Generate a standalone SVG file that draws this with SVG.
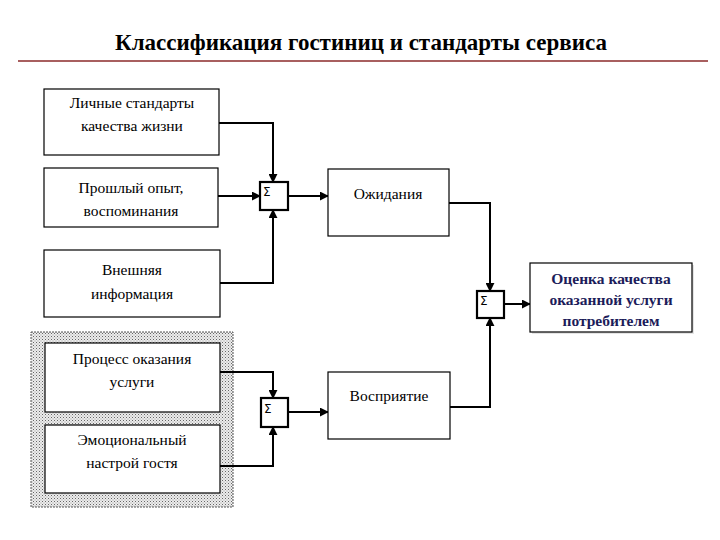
<svg xmlns="http://www.w3.org/2000/svg" width="720" height="540" viewBox="0 0 720 540">
<defs>
<style>
.box{fill:#fff;stroke:#000;stroke-width:1.2}
.sum{fill:#fff;stroke:#000;stroke-width:2.2}
.t{font-size:15.5px;fill:#000;text-anchor:middle}
.tb{font-size:15.5px;font-weight:bold;fill:#1c1c5a;text-anchor:middle}
.ti{font-size:23px;font-weight:bold;fill:#000;text-anchor:middle}
.sg{font-family:'DejaVu Sans',sans-serif;font-size:12px;fill:#000}
.c{fill:none;stroke:#000;stroke-width:2;marker-end:url(#ah)}
</style>
<marker id="ah" viewBox="0 0 10 10" refX="9" refY="5" markerWidth="4.5" markerHeight="4.5" orient="auto" markerUnits="strokeWidth">
<path d="M0,0 L10,5 L0,10 z" fill="#000"/>
</marker>
<pattern id="dots" width="3" height="3" patternUnits="userSpaceOnUse">
<rect width="3" height="3" fill="#ececec"/>
<rect x="0" y="0" width="1" height="1" fill="#666"/>
<rect x="1.5" y="1.5" width="1" height="1" fill="#999"/>
</pattern>
</defs>
<rect width="720" height="540" fill="#fff"/>
<g font-family="Liberation Serif, DejaVu Serif, serif">
<g id="title">
<text class="ti" x="361" y="50">Классификация гостиниц и стандарты сервиса</text>
<line x1="18" y1="61" x2="708" y2="61" stroke="#8b2a2a" stroke-width="1.5"/>
</g>
<g id="group-bg">
<rect x="31" y="332" width="202" height="175" fill="url(#dots)" stroke="#555" stroke-width="1" stroke-dasharray="2,1"/>
</g>
<g id="connectors">
<polyline class="c" points="219,123 273,123 273,182"/>
<polyline class="c" points="218,196 260,196"/>
<polyline class="c" points="220,283 273,283 273,210"/>
<polyline class="c" points="288,196 328,196"/>
<polyline class="c" points="449,203 490,203 490,291"/>
<polyline class="c" points="450,407 490,407 490,318"/>
<polyline class="c" points="504,304 530,304"/>
<polyline class="c" points="220,372 273,372 273,398"/>
<polyline class="c" points="220,466 273,466 273,427"/>
<polyline class="c" points="288,412 328,412"/>
</g>
<g id="n1"><rect class="box" x="44" y="89" width="175" height="66"/>
<text class="t" x="132" y="108">Личные стандарты</text><text class="t" x="132" y="131">качества жизни</text></g>
<g id="n2"><rect class="box" x="44" y="168" width="174" height="59"/>
<text class="t" x="131" y="193">Прошлый опыт,</text><text class="t" x="131" y="216">воспоминания</text></g>
<g id="n3"><rect class="box" x="44" y="250" width="176" height="67"/>
<text class="t" x="132" y="275">Внешняя</text><text class="t" x="132" y="299">информация</text></g>
<g id="n4"><rect class="box" x="45" y="343" width="175" height="69"/>
<text class="t" x="132" y="364">Процесс оказания</text><text class="t" x="132" y="387">услуги</text></g>
<g id="n5"><rect class="box" x="45" y="425" width="175" height="68"/>
<text class="t" x="132" y="445">Эмоциональный</text><text class="t" x="132" y="468">настрой гостя</text></g>
<g id="s1"><rect class="sum" x="260" y="182" width="28" height="28"/><text class="sg" x="263" y="196">Σ</text></g>
<g id="s2"><rect class="sum" x="477" y="291" width="27" height="27"/><text class="sg" x="480" y="305">Σ</text></g>
<g id="s3"><rect class="sum" x="261" y="398" width="27" height="29"/><text class="sg" x="264" y="413">Σ</text></g>
<g id="n6"><rect class="box" x="328" y="169" width="121" height="67"/>
<text class="t" x="388" y="199">Ожидания</text></g>
<g id="n7"><rect class="box" x="328" y="372" width="122" height="67"/>
<text class="t" x="389" y="401">Восприятие</text></g>
<g id="n8"><rect x="532" y="265" width="162" height="69" fill="#e4e4e4"/>
<rect class="box" x="530" y="263" width="162" height="69"/>
<text class="tb" x="611" y="284">Оценка качества</text><text class="tb" x="611" y="305">оказанной услуги</text><text class="tb" x="611" y="326">потребителем</text></g>
</g>
</svg>
